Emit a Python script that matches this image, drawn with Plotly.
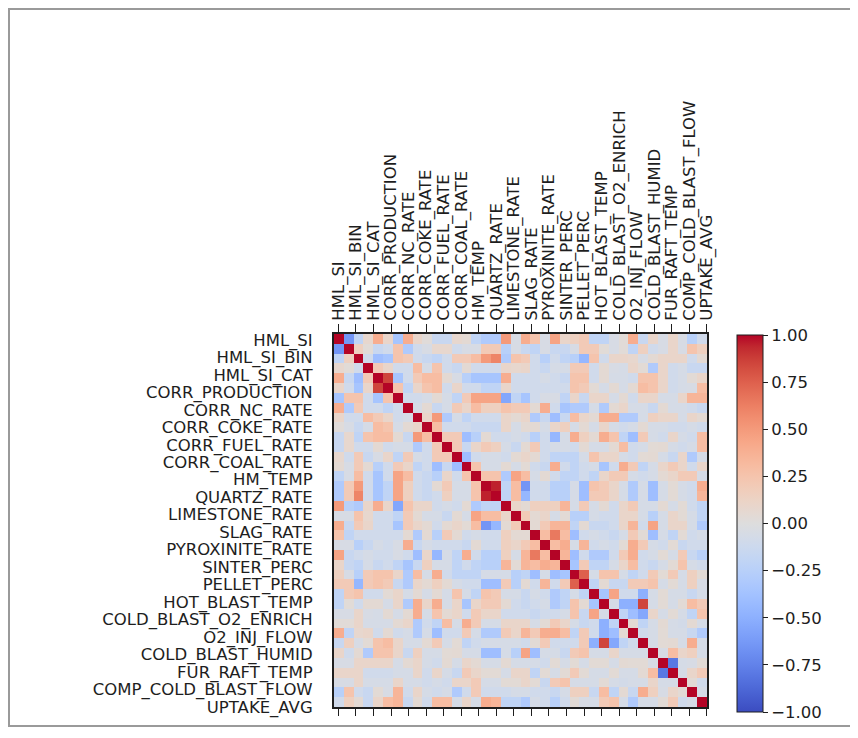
import numpy as np
import plotly.graph_objects as go

labels = ["HML_SI", "HML_SI_BIN", "HML_SI_CAT", "CORR_PRODUCTION", "CORR_NC_RATE",
          "CORR_COKE_RATE", "CORR_FUEL_RATE", "CORR_COAL_RATE", "HM_TEMP", "QUARTZ_RATE",
          "LIMESTONE_RATE", "SLAG_RATE", "PYROXINITE_RATE", "SINTER_PERC", "PELLET_PERC",
          "HOT_BLAST_TEMP", "COLD_BLAST_O2_ENRICH", "O2_INJ_FLOW", "COLD_BLAST_HUMID",
          "FUR_RAFT_TEMP", "COMP_COLD_BLAST_FLOW", "UPTAKE_AVG"]

n_vars = 38

# correlation values to the right of the diagonal, row by row
upper_rows = [
    [-0.65, -0.2, 0.08, 0.4, 0.1, -0.35, 0.4, 0.1, 0.02, -0.15, -0.15, 0.08, 0.05, -0.2, -0.3, -0.3, 0.5, -0.05, 0.4, 0.25, -0.05, 0.45, 0.1, 0.15, 0.2, -0.2, -0.2, -0.05, 0.03, 0.4, -0.15, 0.1, -0.05, 0.1, -0.05, -0.25, -0.1],
    [0.15, 0.03, -0.15, -0.1, 0.25, -0.3, -0.1, -0.05, 0.08, 0.08, -0.1, -0.05, -0.05, 0.2, 0.2, -0.25, -0.05, -0.15, -0.2, -0.05, -0.15, -0.15, -0.05, 0.2, 0.2, 0.03, -0.05, 0.03, -0.2, 0.15, -0.1, -0.05, 0.1, -0.05, 0.25, 0.15],
    [-0.1, -0.4, -0.35, 0.25, 0.2, -0.1, -0.15, -0.2, -0.1, 0.2, 0.2, 0.3, 0.5, 0.6, -0.3, 0.25, 0.2, -0.1, -0.25, -0.1, -0.2, -0.25, -0.45, 0.25, -0.1, 0.1, 0.1, 0.08, -0.05, 0.05, 0.1, 0.1, 0.1, -0.1, 0.05],
    [0.2, 0.1, -0.1, -0.1, 0.3, -0.06, 0.25, -0.1, -0.15, 0.05, -0.1, -0.1, -0.1, 0.1, 0.08, 0.1, -0.1, -0.15, -0.06, -0.06, 0.2, 0.2, -0.1, 0.05, -0.05, -0.06, 0.1, 0.04, -0.3, 0.1, -0.1, -0.06, -0.15, -0.15],
    [0.85, -0.35, -0.1, 0.2, 0.3, 0.3, 0.05, -0.05, -0.25, -0.35, -0.35, -0.35, 0.4, -0.1, -0.1, -0.1, -0.06, -0.1, -0.15, 0.25, 0.25, -0.1, 0.05, -0.06, -0.06, -0.1, 0.25, 0.25, 0.1, -0.1, -0.06, 0.04, 0.1],
    [0.25, -0.2, 0.1, 0.25, 0.3, -0.1, 0.1, -0.1, -0.1, -0.2, -0.2, 0.1, -0.1, -0.1, -0.1, -0.1, -0.1, -0.1, 0.25, 0.2, 0.04, -0.06, 0.05, -0.06, 0.05, 0.3, 0.25, 0.1, -0.1, -0.06, -0.05, 0.3],
    [-0.1, -0.1, -0.06, 0.05, -0.06, -0.2, 0.2, 0.45, 0.45, 0.45, -0.55, -0.2, -0.35, -0.1, -0.05, -0.05, -0.2, 0.1, -0.15, 0.1, 0.1, -0.06, 0.05, -0.1, 0.1, 0.1, -0.06, -0.06, 0.1, 0.35, 0.35],
    [-0.06, 0.05, -0.15, -0.06, 0.2, 0.1, 0.3, 0.15, 0.15, 0.25, 0.2, 0.2, 0.05, 0.4, -0.1, -0.35, -0.3, -0.3, -0.06, -0.3, 0.05, 0.1, -0.06, -0.06, -0.15, 0.05, -0.06, -0.06, -0.1, -0.15],
    [0.1, 0.5, -0.3, -0.06, -0.2, -0.1, -0.1, -0.1, 0.1, 0.05, 0.1, -0.3, -0.15, -0.4, -0.15, 0.3, 0.1, 0.05, 0.4, 0.4, -0.3, -0.3, -0.06, 0.15, 0.1, 0.1, -0.06, 0.1, 0.05],
    [0.3, -0.1, -0.1, -0.1, -0.15, -0.15, -0.15, 0.1, -0.06, 0.05, 0.05, -0.06, 0.1, 0.15, -0.06, 0.05, -0.06, 0.1, -0.06, -0.1, -0.06, 0.05, -0.06, -0.06, -0.1, -0.1, -0.06, -0.1],
    [0.2, 0.2, -0.4, -0.25, 0.05, -0.1, -0.1, -0.06, -0.1, -0.25, -0.1, -0.45, -0.06, 0.4, 0.15, 0.05, 0.4, 0.25, -0.2, -0.4, 0.2, -0.06, -0.1, 0.1, -0.06, -0.1, 0.3],
    [0.2, -0.15, 0.1, 0.2, 0.15, -0.06, -0.15, 0.05, 0.2, -0.1, -0.06, -0.06, -0.1, 0.05, -0.06, -0.06, 0.05, 0.3, -0.1, -0.06, 0.04, 0.05, -0.06, -0.1, -0.06, 0.3],
    [-0.4, -0.1, -0.06, -0.06, -0.1, 0.05, 0.1, 0.05, -0.1, -0.2, -0.2, -0.2, -0.06, 0.25, 0.1, 0.1, -0.06, -0.1, 0.04, 0.05, -0.06, -0.15, 0.1, -0.3, -0.06],
    [0.25, -0.06, -0.06, 0.05, -0.06, 0.04, -0.1, -0.15, 0.4, -0.1, -0.2, -0.1, -0.06, -0.35, -0.1, 0.4, 0.2, -0.2, -0.06, 0.1, 0.2, 0.1, -0.1, 0.1],
    [0.25, 0.25, -0.3, 0.45, 0.3, -0.06, 0.05, -0.1, -0.2, -0.2, -0.1, -0.2, 0.1, 0.2, 0.2, -0.06, -0.1, -0.06, 0.05, 0.1, 0.2, 0.2, -0.06],
    [0.95, -0.2, 0.3, -0.65, -0.1, -0.1, -0.25, -0.25, -0.06, -0.4, 0.25, 0.2, 0.1, -0.06, -0.3, -0.06, -0.4, -0.06, 0.04, -0.06, -0.1, 0.4],
    [-0.2, 0.3, -0.45, -0.1, -0.1, -0.25, -0.25, -0.06, -0.4, 0.2, 0.2, 0.1, -0.06, -0.3, -0.06, -0.4, -0.06, 0.04, -0.06, -0.1, 0.35],
    [0.1, 0.05, 0.15, 0.15, 0.15, 0.35, -0.06, 0.2, -0.06, 0.05, -0.1, 0.1, 0.2, -0.06, -0.06, 0.05, -0.06, 0.04, -0.1, -0.2],
    [0.2, 0.05, 0.1, -0.06, 0.04, -0.25, -0.25, -0.06, -0.1, -0.1, 0.1, 0.1, -0.06, -0.25, -0.06, 0.1, 0.04, -0.06, -0.2],
    [0.05, 0.2, 0.35, 0.35, -0.2, 0.05, -0.15, -0.15, -0.1, 0.1, 0.35, -0.1, 0.45, -0.06, 0.1, 0.1, -0.06, -0.3],
    [0.3, 0.65, 0.3, -0.4, -0.1, -0.06, -0.1, -0.15, -0.06, 0.2, 0.04, -0.4, -0.06, -0.2, 0.04, -0.1, -0.06],
    [0.3, 0.4, -0.06, 0.35, -0.1, -0.06, -0.1, 0.04, 0.4, 0.2, -0.06, -0.1, 0.04, -0.15, -0.1, -0.1],
    [0.35, -0.4, -0.1, -0.3, -0.3, -0.1, 0.2, 0.4, -0.1, -0.06, 0.04, -0.06, 0.2, -0.15, -0.25],
    [-0.35, 0.2, -0.2, -0.2, -0.06, 0.1, 0.3, -0.1, -0.15, -0.06, 0.04, 0.25, -0.06, -0.1],
    [0.75, -0.06, 0.25, 0.25, -0.06, -0.2, -0.1, 0.2, 0.04, 0.2, -0.06, 0.15, 0.04],
    [-0.2, 0.05, -0.15, -0.15, 0.2, 0.2, 0.25, -0.06, 0.04, -0.06, 0.15, -0.05],
    [-0.35, 0.45, -0.1, -0.1, -0.5, -0.06, 0.04, -0.06, -0.06, -0.15, -0.06],
    [-0.06, -0.5, -0.5, 0.85, -0.06, 0.04, -0.06, 0.04, 0.3, 0.2],
    [-0.2, -0.4, -0.55, 0.1, -0.06, 0.04, -0.06, -0.2, 0.25],
    [0.05, -0.2, -0.06, 0.05, -0.06, -0.08, 0.05, -0.06],
    [-0.1, -0.06, 0.04, -0.06, -0.06, -0.15, -0.3],
    [-0.06, 0.04, 0.05, -0.06, 0.4, -0.06],
    [-0.05, 0.3, 0.1, 0.15, -0.06],
    [-0.8, -0.06, -0.05, 0.04],
    [-0.06, 0.1, 0.2],
    [0.04, -0.1],
    [-0.06],
    [],
]

cbar_ticks = [-1.0, -0.75, -0.5, -0.25, 0.0, 0.25, 0.5, 0.75, 1.0]

# build symmetric matrix
corr = np.eye(n_vars)
for i, row in enumerate(upper_rows):
    for k, v in enumerate(row):
        j = i + 1 + k
        corr[i, j] = v
        corr[j, i] = v

coolwarm = [
    [0.0, "rgb(59,76,192)"], [0.03125, "rgb(68,90,204)"], [0.0625, "rgb(77,104,215)"],
    [0.09375, "rgb(87,117,225)"], [0.125, "rgb(98,130,234)"], [0.15625, "rgb(108,142,241)"],
    [0.1875, "rgb(119,154,247)"], [0.21875, "rgb(130,165,251)"], [0.25, "rgb(141,176,254)"],
    [0.28125, "rgb(152,185,255)"], [0.3125, "rgb(163,194,255)"], [0.34375, "rgb(174,201,253)"],
    [0.375, "rgb(184,208,249)"], [0.40625, "rgb(194,213,244)"], [0.4375, "rgb(204,217,238)"],
    [0.46875, "rgb(213,219,230)"], [0.5, "rgb(221,221,221)"], [0.53125, "rgb(229,216,209)"],
    [0.5625, "rgb(236,211,197)"], [0.59375, "rgb(241,204,185)"], [0.625, "rgb(245,196,173)"],
    [0.65625, "rgb(247,187,160)"], [0.6875, "rgb(247,177,148)"], [0.71875, "rgb(247,166,135)"],
    [0.75, "rgb(244,154,123)"], [0.78125, "rgb(241,141,111)"], [0.8125, "rgb(236,127,99)"],
    [0.84375, "rgb(229,112,88)"], [0.875, "rgb(222,96,77)"], [0.90625, "rgb(213,80,66)"],
    [0.9375, "rgb(203,62,56)"], [0.96875, "rgb(192,40,47)"], [1.0, "rgb(180,4,38)"],
]

# figure geometry (page is offset by the 8px body margin)
W, H = 850, 730
L, R, T, B = 326, 699, 326, 699
pw, ph = R - L, B - T

idx = list(range(n_vars))
xtick_pos = list(np.linspace(-0.05, 37.49, len(labels)))
ytick_pos = list(np.linspace(0.1, 37.49, len(labels)))

font_family = "DejaVu Sans"
txt_col = "#1e1e1e"

fig = go.Figure()
fig.add_trace(go.Heatmap(
    z=corr, x=idx, y=idx, zmin=-1, zmax=1, colorscale=coolwarm,
    colorbar=dict(
        x=(729 - L) / pw, xanchor="left", xpad=0,
        y=(B - 327) / ph, yanchor="top", ypad=0,
        lenmode="pixels", len=377, thickness=26,
        outlinewidth=1, outlinecolor="#1e1e1e",
        tickvals=cbar_ticks, tickformat=".2f",
        ticks="outside", ticklen=5, tickwidth=1, tickcolor="#1e1e1e",
        tickfont=dict(family=font_family, size=16.5, color=txt_col),
    ),
    hoverinfo="skip",
))
fig.add_trace(go.Scatter(x=[], y=[], xaxis="x2", yaxis="y", showlegend=False))

fig.update_layout(
    width=W, height=H,
    margin=dict(l=L, r=W - R, t=T, b=H - B, pad=0),
    paper_bgcolor="white", plot_bgcolor="white",
    font=dict(family=font_family, size=16.5, color=txt_col),
    xaxis=dict(
        side="top", range=[-0.5, n_vars - 0.5], tickmode="array",
        tickvals=xtick_pos, ticktext=labels, tickangle=-90,
        ticks="outside", ticklen=8, tickwidth=1.3, tickcolor="#1e1e1e",
        showline=True, mirror=True, linecolor="#1e1e1e", linewidth=2,
        showgrid=False, zeroline=False, automargin=False,
        tickfont=dict(family=font_family, size=16.5, color=txt_col),
    ),
    xaxis2=dict(
        overlaying="x", side="bottom", anchor="y", range=[-0.5, n_vars - 0.5],
        type="linear", tickmode="array", tickvals=xtick_pos,
        ticks="outside", ticklen=8, tickwidth=1.3, tickcolor="#1e1e1e",
        showticklabels=False, showline=False, showgrid=False, zeroline=False,
        automargin=False,
    ),
    yaxis=dict(
        range=[n_vars - 0.5, -0.5], tickmode="array",
        tickvals=ytick_pos, ticktext=labels, ticks="",
        ticklabelstandoff=16,
        showline=True, mirror=True, linecolor="#1e1e1e", linewidth=2,
        showgrid=False, zeroline=False, automargin=False,
        tickfont=dict(family=font_family, size=16.5, color=txt_col),
    ),
    shapes=[dict(
        type="rect", xref="paper", yref="paper",
        x0=(1 - L) / pw, x1=(847 - L) / pw,
        y0=(B - 718) / ph, y1=(B - 1) / ph,
        line=dict(color="#9a9a9a", width=2), fillcolor="rgba(0,0,0,0)", layer="below",
    )],
)

fig.write_html("out.html")
